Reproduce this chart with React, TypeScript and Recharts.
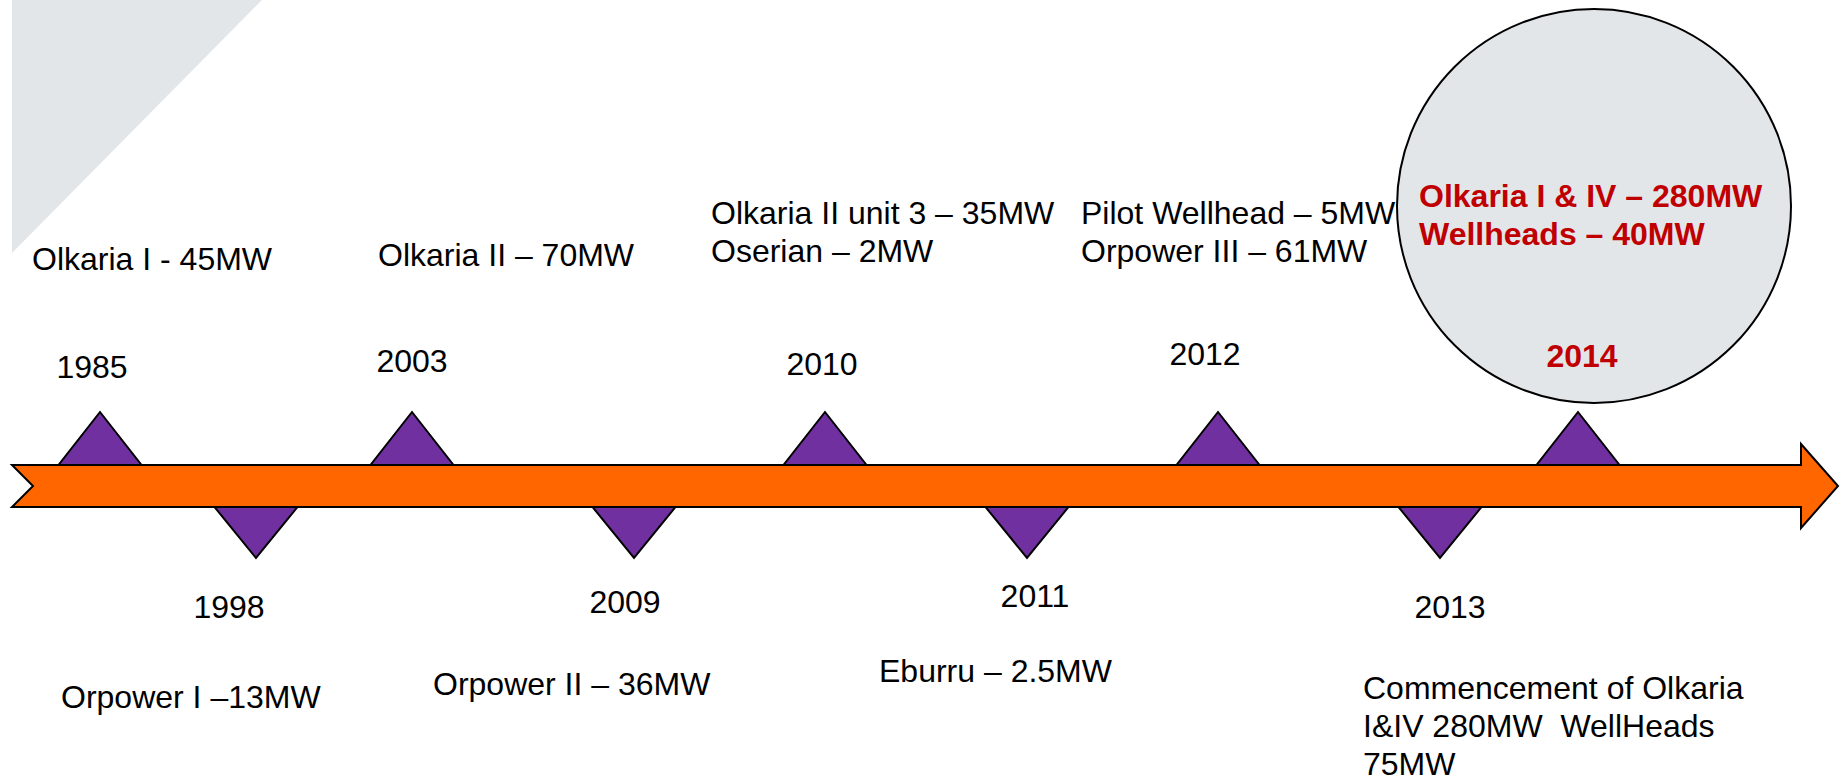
import {
  ReferenceArea,
  ReferenceDot,
  Scatter,
  ScatterChart,
  XAxis,
  YAxis,
} from "recharts";

// geothermal milestones, in timeline order
const YEARS = ["1985", "1998", "2003", "2009", "2010", "2011", "2012", "2013", "2014"];
const TIMELINE_X = [100, 256, 412, 634, 825, 1027, 1218, 1440, 1578];
const SIDES = ["up", "down", "up", "down", "up", "down", "up", "down", "up"];
const EVENTS = [
  ["Olkaria I - 45MW"],
  ["Orpower I \u201313MW"],
  ["Olkaria II \u2013 70MW"],
  ["Orpower II \u2013 36MW"],
  ["Olkaria II unit 3 \u2013 35MW", "Oserian \u2013 2MW"],
  ["Eburru \u2013 2.5MW"],
  ["Pilot Wellhead \u2013 5MW", "Orpower III \u2013 61MW"],
  ["Commencement of Olkaria", "I&IV 280MW  WellHeads", "75MW"],
  ["Olkaria I & IV \u2013 280MW", "Wellheads \u2013 40MW"],
];
const HIGHLIGHT = "2014";

// label layout (baseline anchors)
const YEAR_LABEL_POS = [
  [92, 378], [229, 618], [412, 372], [625, 613], [822, 375],
  [1035, 607], [1205, 365], [1450, 618], [1582, 367],
];
const EVENT_LABEL_POS = [
  [32, 270], [61, 708], [378, 266], [433, 695], [711, 224],
  [879, 682], [1081, 224], [1363, 699], [1419, 207],
];

const W = 1840;
const H = 777;
const AXIS_Y = 486;
const FONT = '"Liberation Sans", Arial, sans-serif';
const RED = "#c00000";

const markers = YEARS.map((year, i) => ({ x: TIMELINE_X[i], y: AXIS_Y, side: SIDES[i], year }));

const labels = [
  ...YEARS.map((year, i) => ({
    x: YEAR_LABEL_POS[i][0],
    y: YEAR_LABEL_POS[i][1],
    lines: [year],
    anchor: "middle",
    hot: year === HIGHLIGHT,
  })),
  ...EVENTS.map((lines, i) => ({
    x: EVENT_LABEL_POS[i][0],
    y: EVENT_LABEL_POS[i][1],
    lines,
    anchor: "start",
    hot: YEARS[i] === HIGHLIGHT,
  })),
];

function Triangle(props: any) {
  const { cx, cy, payload } = props;
  const hw = 41.5;
  const pts =
    payload.side === "up"
      ? `${cx - hw},${cy - 21} ${cx + hw},${cy - 21} ${cx},${cy - 74}`
      : `${cx - hw},${cy + 21} ${cx + hw},${cy + 21} ${cx},${cy + 72}`;
  return <polygon points={pts} fill="#7030a0" stroke="#000" strokeWidth={2} strokeLinejoin="miter" />;
}

function TextLabel(props: any) {
  const { cx, cy, payload } = props;
  return (
    <text
      x={cx}
      y={cy}
      textAnchor={payload.anchor}
      fontFamily={FONT}
      fontSize={32}
      fontWeight={payload.hot ? 700 : 400}
      fill={payload.hot ? RED : "#000"}
      style={{ whiteSpace: "pre" }}
    >
      {payload.lines.map((l: string, j: number) => (
        <tspan key={j} x={cx} dy={j === 0 ? 0 : 38}>
          {l}
        </tspan>
      ))}
    </text>
  );
}

function Arrow(props: any) {
  const { x, y, width, height } = props;
  const r = x + width;
  const mid = y + height / 2;
  const bt = y + 21;
  const bb = y + height - 21;
  const head = r - 37;
  const pts = [
    [x, bt], [head, bt], [head, y], [r, mid], [head, y + height],
    [head, bb], [x, bb], [x + 21, mid],
  ]
    .map((p) => p.join(","))
    .join(" ");
  return <polygon points={pts} fill="#ff6600" stroke="#000" strokeWidth={2} />;
}

function Corner(props: any) {
  const { x, y, width, height } = props;
  return <polygon points={`${x},${y} ${x + width},${y} ${x},${y + height}`} fill="#e3e6e9" />;
}

export default function App() {
  return (
    <div style={{ width: W, height: H }}>
      <style>{"body{margin:0}"}</style>
      <ScatterChart width={W} height={H} margin={{ top: 0, right: 0, bottom: 0, left: 0 }}>
        <XAxis type="number" dataKey="x" domain={[0, W]} hide />
        <YAxis type="number" dataKey="y" domain={[0, H]} reversed hide />
        <ReferenceArea x1={12} x2={262} y1={0} y2={253} shape={Corner} ifOverflow="visible" />
        <ReferenceDot x={1594} y={206} r={197} fill="#e3e6e9" stroke="#000" strokeWidth={2} ifOverflow="visible" />
        <ReferenceArea x1={12} x2={1838} y1={444} y2={528} shape={Arrow} ifOverflow="visible" />
        <Scatter data={markers} shape={Triangle} isAnimationActive={false} />
        <Scatter data={labels} shape={TextLabel} isAnimationActive={false} />
      </ScatterChart>
    </div>
  );
}
